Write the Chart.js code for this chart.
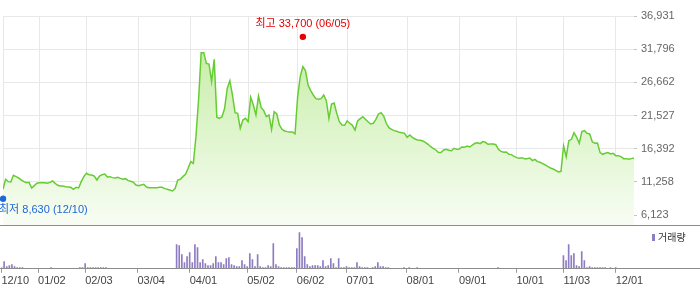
<!DOCTYPE html>
<html>
<head>
<meta charset="utf-8">
<script src="https://cdn.jsdelivr.net/npm/chart.js@4/dist/chart.umd.min.js"></script>
<style>
  body { margin: 0; background: #fff; }
  canvas { display: block; }
</style>
</head>
<body>
<canvas id="priceChart" width="700" height="226"></canvas>
<canvas id="volumeChart" width="700" height="63"></canvas>
<script>
// trading-day index of each month label, and the labels themselves
const tickIndex = [0, 14, 32, 52, 72, 94, 113, 132, 155, 175, 197, 215, 235];
const tickLabels = ['12/10', '01/02', '02/03', '03/04', '04/01', '05/02', '06/02', '07/01', '08/01', '09/01', '10/01', '11/03', '12/01'];
const yTicks = [6123, 11258, 16392, 21527, 26662, 31796, 36931];

// daily close (won), 12/10 .. 12/10
const prices = [
  10100, 11650, 11290, 11230, 12270, 12060, 11850, 11540, 11290, 11130,
  11180, 10310, 10670, 11030, 11130, 11130, 11130, 11030, 11180, 11390,
  11030, 10720, 10620, 10620, 10510, 10460, 10410, 10100, 10410, 10310,
  11290, 12060, 12580, 12370, 12320, 12160, 11540, 12160, 12370, 12470,
  12010, 12060, 11910, 11850, 11960, 11800, 11650, 11750, 11440, 11340,
  11180, 10770, 10670, 10770, 10870, 10460, 10360, 10360, 10360, 10360,
  10410, 10410, 10200, 10100, 10000, 9840, 10200, 11540, 11650, 12060,
  12420, 13350, 14380, 14120, 18250, 23930, 31250, 31250, 29600, 29500,
  26770, 30220, 21250, 21090, 21350, 22640, 25730, 26920, 24700, 21970,
  21860, 19540, 20830, 21090, 20570, 24340, 23150, 21610, 24550, 22790,
  22280, 21350, 21610, 19390, 22120, 21760, 20060, 19390, 19130, 19030,
  18970, 18970, 18670, 24440, 27540, 29090, 28470, 26250, 25370, 24700,
  24130, 24030, 24130, 24700, 23830, 21090, 23310, 23460, 21860, 20570,
  20060, 20010, 20680, 20320, 20010, 19280, 20680, 21040, 21350, 20940,
  20570, 20210, 20320, 20940, 21760, 21970, 21450, 20320, 19650, 19390,
  19180, 19080, 18920, 18870, 18770, 18150, 18510, 18150, 17890, 17740,
  17680, 17580, 17380, 17070, 16700, 16450, 16190, 15780, 15780, 16190,
  16290, 16140, 16080, 16450, 16290, 16340, 16650, 16600, 16810, 16650,
  16960, 17220, 17320, 17170, 17480, 17380, 17070, 17120, 17120, 17010,
  16290, 15980, 15830, 15880, 15520, 15470, 15210, 15000, 14900, 15000,
  14850, 14850, 14950, 14540, 14740, 14380, 14280, 14070, 13870, 13610,
  13400, 13250, 13040, 12780, 12890, 16810, 15160, 17630, 17840, 18870,
  18150, 17220, 19030, 19180, 18770, 18670, 17480, 17220, 17270, 15780,
  15520, 15670, 15780, 15570, 15670, 15310, 15310, 15160, 14850, 14850,
  14740, 14850, 14950
];

// daily volume (thousand shares)
const volumes = [
  5, 22, 7, 10, 13, 7, 4, 4, 4, 0,
  0, 0, 0, 0, 0, 0, 0, 0, 0, 4,
  0, 0, 0, 0, 0, 0, 0, 0, 0, 0,
  4, 4, 16, 4, 4, 4, 4, 4, 4, 4,
  4, 0, 0, 0, 0, 0, 0, 0, 0, 0,
  0, 0, 0, 0, 0, 0, 0, 0, 0, 0,
  0, 0, 0, 0, 0, 0, 0, 73, 70, 43,
  19, 37, 49, 19, 73, 64, 19, 28, 16, 10,
  10, 16, 37, 19, 19, 13, 31, 34, 13, 10,
  7, 7, 25, 13, 7, 46, 28, 7, 43, 7,
  4, 4, 10, 7, 76, 13, 7, 4, 4, 4,
  4, 4, 4, 61, 109, 94, 37, 13, 7, 10,
  10, 10, 7, 25, 7, 10, 31, 16, 4, 31,
  4, 4, 7, 4, 4, 4, 19, 7, 4, 4,
  4, 0, 4, 7, 19, 7, 7, 4, 4, 0,
  0, 0, 0, 0, 4, 0, 4, 0, 0, 4,
  0, 0, 0, 0, 0, 0, 0, 0, 0, 0,
  0, 0, 0, 0, 0, 0, 0, 0, 0, 0,
  0, 0, 0, 0, 0, 0, 0, 0, 0, 0,
  4, 0, 0, 0, 0, 0, 0, 0, 0, 0,
  0, 0, 0, 0, 0, 0, 0, 0, 0, 0,
  0, 0, 0, 0, 0, 40, 25, 73, 40, 46,
  10, 7, 52, 25, 4, 7, 4, 4, 4, 4,
  4, 4, 0, 4, 0, 4, 0, 0, 0, 0,
  0, 0, 0
];

const highMark = [115, 33700];
const lowMark = [0, 8630];
const highText = '최고 33,700 (06/05)';
const lowText = '최저 8,630 (12/10)';

const FONT = "'Liberation Sans', 'Noto Sans CJK KR', sans-serif";
const lastIndex = prices.length - 1;

function monthTicks(scale) {
  scale.ticks = tickIndex.map(v => ({ value: v }));
}

// high / low markers + full width bottom line
const markerPlugin = {
  id: 'markers',
  afterDatasetsDraw(chart) {
    const { ctx, scales: { x, y }, chartArea } = chart;
    ctx.save();

    ctx.strokeStyle = '#8c8c8c';
    ctx.lineWidth = 1;
    ctx.beginPath();
    ctx.moveTo(0, chartArea.bottom + 0.5);
    ctx.lineTo(chart.width, chartArea.bottom + 0.5);
    ctx.stroke();

    ctx.font = '11px ' + FONT;
    ctx.textBaseline = 'middle';

    const hx = x.getPixelForValue(highMark[0]);
    const hy = y.getPixelForValue(highMark[1]);
    ctx.fillStyle = '#e60000';
    ctx.beginPath();
    ctx.arc(hx, hy, 3.2, 0, Math.PI * 2);
    ctx.fill();
    ctx.textAlign = 'center';
    ctx.fillText(highText, hx, hy - 13);

    const lx = x.getPixelForValue(lowMark[0]);
    const ly = y.getPixelForValue(lowMark[1]);
    ctx.fillStyle = '#1f66d6';
    ctx.beginPath();
    ctx.arc(lx, ly, 3.2, 0, Math.PI * 2);
    ctx.fill();
    ctx.textAlign = 'left';
    ctx.fillText(lowText, lx - 4, ly + 11);

    ctx.restore();
  }
};

new Chart(document.getElementById('priceChart'), {
  type: 'line',
  data: {
    datasets: [{
      data: prices.map((v, i) => ({ x: i, y: v })),
      borderColor: '#66cc33',
      borderWidth: 1.5,
      pointRadius: 0,
      tension: 0,
      fill: 'start',
      backgroundColor: (c) => {
        const area = c.chart.chartArea;
        if (!area) return 'rgba(200,240,170,0.5)';
        const g = c.chart.ctx.createLinearGradient(0, area.top, 0, area.bottom);
        g.addColorStop(0, '#bfeb9b');
        g.addColorStop(1, '#f8fdf4');
        return g;
      }
    }]
  },
  options: {
    responsive: false,
    animation: false,
    layout: { padding: { top: 16, bottom: 1, left: 3, right: 0 } },
    plugins: { legend: { display: false }, tooltip: { enabled: false } },
    scales: {
      x: {
        type: 'linear',
        min: 0,
        max: lastIndex,
        afterBuildTicks: monthTicks,
        afterFit: s => { s.height = 0; s.paddingLeft = 0; s.paddingRight = 0; },
        ticks: { display: false },
        grid: { color: '#e8e8e8', drawTicks: false },
        border: { display: false }
      },
      y: {
        position: 'right',
        min: 4575,
        max: 36931,
        afterBuildTicks: s => { s.ticks = yTicks.map(v => ({ value: v })); },
        afterFit: s => { s.width = 66; s.paddingTop = 0; s.paddingBottom = 0; },
        ticks: {
          color: '#666',
          font: { family: FONT, size: 11 },
          padding: 4,
          callback: v => v.toLocaleString('en-US')
        },
        grid: { color: '#e8e8e8', tickLength: 3, tickColor: '#c4c4c4' },
        border: { display: false }
      }
    }
  },
  plugins: [markerPlugin]
});

// legend + baseline for the volume panel
const volumePlugin = {
  id: 'volumeDecor',
  afterDraw(chart) {
    const { ctx, chartArea } = chart;
    ctx.save();
    ctx.strokeStyle = '#8c8c8c';
    ctx.lineWidth = 1;
    ctx.beginPath();
    const by = Math.round(chartArea.bottom) - 0.5;
    ctx.moveTo(0, by);
    ctx.lineTo(chart.width, by);
    ctx.stroke();

    ctx.fillStyle = '#8e7cc3';
    ctx.fillRect(652, 8, 3, 7);
    ctx.fillStyle = '#333';
    ctx.font = '10px ' + FONT;
    ctx.textBaseline = 'middle';
    ctx.textAlign = 'left';
    ctx.fillText(chart.data.datasets[0].label, 658, 12);
    ctx.restore();
  }
};

new Chart(document.getElementById('volumeChart'), {
  type: 'bar',
  data: {
    datasets: [{
      label: '거래량',
      data: volumes.map((v, i) => ({ x: i, y: v })),
      backgroundColor: '#8e7cc3',
      barThickness: 1,
      borderWidth: 0
    }]
  },
  options: {
    responsive: false,
    animation: false,
    layout: { padding: { top: 0, bottom: 0, left: 0, right: 66 } },
    plugins: { legend: { display: false }, tooltip: { enabled: false } },
    scales: {
      x: {
        type: 'linear',
        min: 0,
        max: lastIndex,
        offset: false,
        afterBuildTicks: monthTicks,
        ticks: {
          align: 'start',
          autoSkip: false,
          maxRotation: 0,
          padding: 1.5,
          color: '#444',
          font: { family: FONT, size: 11 },
          callback: v => {
            const k = tickIndex.indexOf(v);
            return k >= 0 ? tickLabels[k] : '';
          }
        },
        grid: { offset: false, drawOnChartArea: false, tickLength: 4, tickColor: '#999' },
        border: { display: false }
      },
      y: { display: false, min: 0, max: 128.5 }
    }
  },
  plugins: [volumePlugin]
});
</script>
</body>
</html>
